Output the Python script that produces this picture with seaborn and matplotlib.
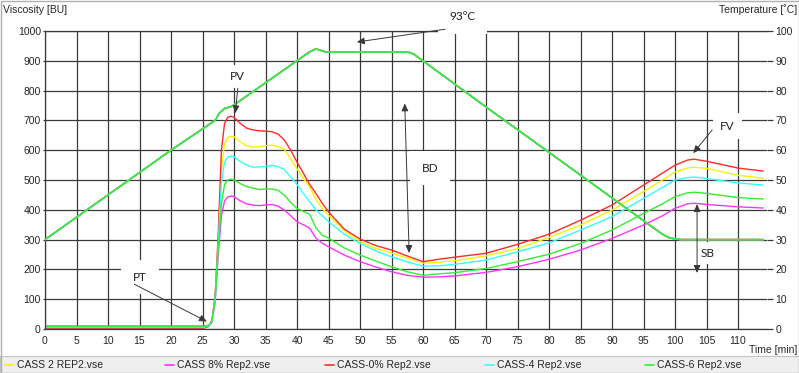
import matplotlib
matplotlib.use("Agg")
import numpy as np
import pandas as pd
import matplotlib.pyplot as plt
from matplotlib.lines import Line2D
from matplotlib.patches import Rectangle
import seaborn as sns

# ---- data (time in min, viscosity in BU) ----
time = [0, 25, 26, 26.5, 27, 27.5, 28, 28.5, 29, 29.5, 30, 31, 32, 33, 34, 35, 36, 37,
        38, 39, 40, 41, 42, 43, 44, 45, 47.5, 50, 52.5, 55, 57.5, 60, 62.5, 65, 70,
        75, 80, 85, 90, 95, 98, 100, 102, 103, 105, 110, 114]

cass2 = [5, 5, 10, 28, 105, 300, 540, 620, 643, 647, 645, 628, 615, 610, 612, 615, 617, 612,
         603, 570, 538, 505, 477, 435, 405, 382, 330, 293, 270, 255, 238, 221, 224, 229, 245,
         270, 307, 349, 399, 461, 500, 527, 540, 543, 539, 516, 506]
cass8 = [10, 10, 12, 22, 90, 250, 380, 430, 443, 446, 444, 430, 420, 416, 414, 416, 418, 412,
         399, 380, 360, 350, 338, 305, 288, 276, 248, 226, 208, 192, 180, 174, 175, 178, 190,
         209, 234, 265, 304, 349, 380, 405, 420, 422, 418, 410, 406]
cass0 = [2, 2, 8, 30, 110, 320, 600, 690, 710, 714, 710, 690, 674, 668, 665, 664, 662, 654,
         634, 600, 560, 523, 485, 455, 422, 393, 335, 302, 280, 265, 245, 226, 234, 241, 254,
         284, 318, 365, 416, 483, 523, 550, 567, 570, 563, 540, 530]
cass4 = [5, 5, 10, 25, 100, 290, 490, 560, 577, 580, 578, 562, 550, 543, 544, 545, 549, 545,
         535, 510, 485, 455, 427, 400, 380, 360, 318, 287, 262, 242, 225, 211, 212, 217, 231,
         259, 289, 332, 377, 438, 475, 500, 508, 510, 505, 490, 483]
cass6 = [8, 8, 12, 25, 95, 270, 420, 485, 500, 503, 500, 488, 478, 473, 468, 470, 470, 465,
         449, 425, 404, 395, 385, 340, 315, 305, 272, 248, 228, 209, 192, 180, 185, 189, 203,
         226, 251, 287, 332, 388, 420, 444, 457, 459, 455, 441, 436]

# temperature profile (deg C), same for every run
temp_time = [0, 20, 27, 27.7, 28.5, 29.5, 30, 42, 43, 44.5, 57.5, 58.5, 70, 80, 90, 97, 98, 99, 100, 101, 114]
temp_vals = [30, 60, 70, 72.5, 74, 74.6, 75.2, 93, 94, 93, 93, 92.3, 74.5, 59.3, 44, 33.3, 31.8, 30.7, 30.2, 30, 30]

names = ["CASS 2 REP2.vse", "CASS 8% Rep2.vse", "CASS-0% Rep2.vse", "CASS-4 Rep2.vse", "CASS-6 Rep2.vse"]
colors = ["#f5f500", "#ff33ff", "#ff2a2a", "#33ffff", "#33ee33"]
series = [cass2, cass8, cass0, cass4, cass6]

visc = pd.concat([pd.DataFrame({"time": time, "visc": v, "run": n}) for n, v in zip(names, series)])
temp = pd.concat([pd.DataFrame({"time": temp_time, "temp": temp_vals, "run": n}) for n in names])
palette = dict(zip(names, colors))

sns.set_style("white")
plt.rcParams["font.family"] = ["Liberation Sans", "DejaVu Sans"]

fig = plt.figure(figsize=(7.99, 3.73), dpi=100)
ax = fig.add_axes([45 / 799, 1 - 329 / 373, (767 - 45) / 799, (329 - 31) / 373])
ax2 = ax.twinx()

grid_c = "#3a3a3a"
sns.lineplot(data=visc, x="time", y="visc", hue="run", palette=palette, ax=ax,
             lw=1.0, legend=False, sort=False)
sns.lineplot(data=temp, x="time", y="temp", hue="run", palette=palette, ax=ax2,
             lw=1.1, legend=False, sort=False)

ax.set_xlim(0, 114.6)
ax.set_ylim(0, 1000)
ax2.set_ylim(0, 100)
ax.set_xticks(range(0, 111, 5))
ax.set_yticks(range(0, 1001, 100))
ax2.set_yticks(range(0, 101, 10))
ax.grid(True, color=grid_c, lw=0.9)
ax.set_axisbelow(True)
ax.set_xlabel("")
ax.set_ylabel("")
ax2.set_ylabel("")
for s in ["top", "left", "bottom"]:
    ax.spines[s].set_color(grid_c)
    ax.spines[s].set_linewidth(0.9)
ax.spines["right"].set_visible(False)
for s in ax2.spines.values():
    s.set_visible(False)
ax.tick_params(axis="x", length=3, width=0.9, color=grid_c, labelsize=7.5, pad=2)
ax.tick_params(axis="y", length=1.5, width=0.9, color=grid_c, labelsize=7.5, pad=1.5)
ax2.tick_params(axis="y", length=4, width=0.9, color=grid_c, labelsize=7.5, pad=2)

# ---- annotations ----
ann_font = dict(family=["Lato", "DejaVu Sans"], fontsize=8.5, color="#202020")
arrow_c = "#383838"


def label(txt, x, y, pad):
    ax2.text(x, y, txt, transform=ax.transData, ha="center", va="center", zorder=5,
             clip_on=False, bbox=dict(boxstyle=f"square,pad={pad}", fc="white", ec="none"),
             **ann_font)


def arrow(head, tail, style="-|>"):
    ax2.annotate("", xy=head, xycoords=ax.transData, xytext=tail, textcoords=ax.transData,
                 zorder=6, annotation_clip=False,
                 arrowprops=dict(arrowstyle=f"{style},head_length=0.45,head_width=0.2",
                                 color=arrow_c, lw=0.7, shrinkA=0, shrinkB=0))


label("PT", 15.1, 174, 1.0)
arrow((25.7, 25), (14.2, 150))
label("PV", 30.5, 846, 0.5)
arrow((30.2, 724), (30.6, 808))
label("93ºC", 66.3, 1047, 0.95)
arrow((49.5, 963), (63.5, 1006))
label("BD", 61.1, 540, 1.0)
arrow((57.1, 757), (57.8, 255), "<|-|>")
label("FV", 108.3, 681, 0.6)
arrow((102.9, 590), (105.9, 668))
label("SB", 105.2, 255, 0.45)
arrow((103.5, 419), (103.5, 188), "<|-|>")

# ---- frame texts ----
fig.text(3 / 799, 1 - 10 / 373, "Viscosity [BU]", ha="left", va="center", fontsize=7.5)
fig.text(797 / 799, 1 - 10 / 373, "Temperature [˚C]", ha="right", va="center", fontsize=7.5)
fig.text(797 / 799, 1 - 350 / 373, "Time [min]", ha="right", va="center", fontsize=7.5)

# legend strip along the bottom
fig.patches.append(Rectangle((0, 0), 1, 17 / 373, transform=fig.transFigure,
                             fc="#efefef", ec="#c4c4c4", lw=0.8))
for i, (n, c) in enumerate(zip(names, colors)):
    x0 = (5 + 160 * i) / 799
    ly = 1 - 365 / 373
    fig.add_artist(Line2D([x0, x0 + 9 / 799], [ly, ly], color=c, lw=1.2,
                          transform=fig.transFigure))
    fig.text(x0 + 12 / 799, ly, n, ha="left", va="center", fontsize=7.5)

fig.patches.append(Rectangle((0.5 / 799, 0.5 / 373), 798 / 799, 372 / 373,
                             transform=fig.transFigure, fc="none", ec="#b0b0b0", lw=1))

fig.savefig("out.png", dpi=100)
